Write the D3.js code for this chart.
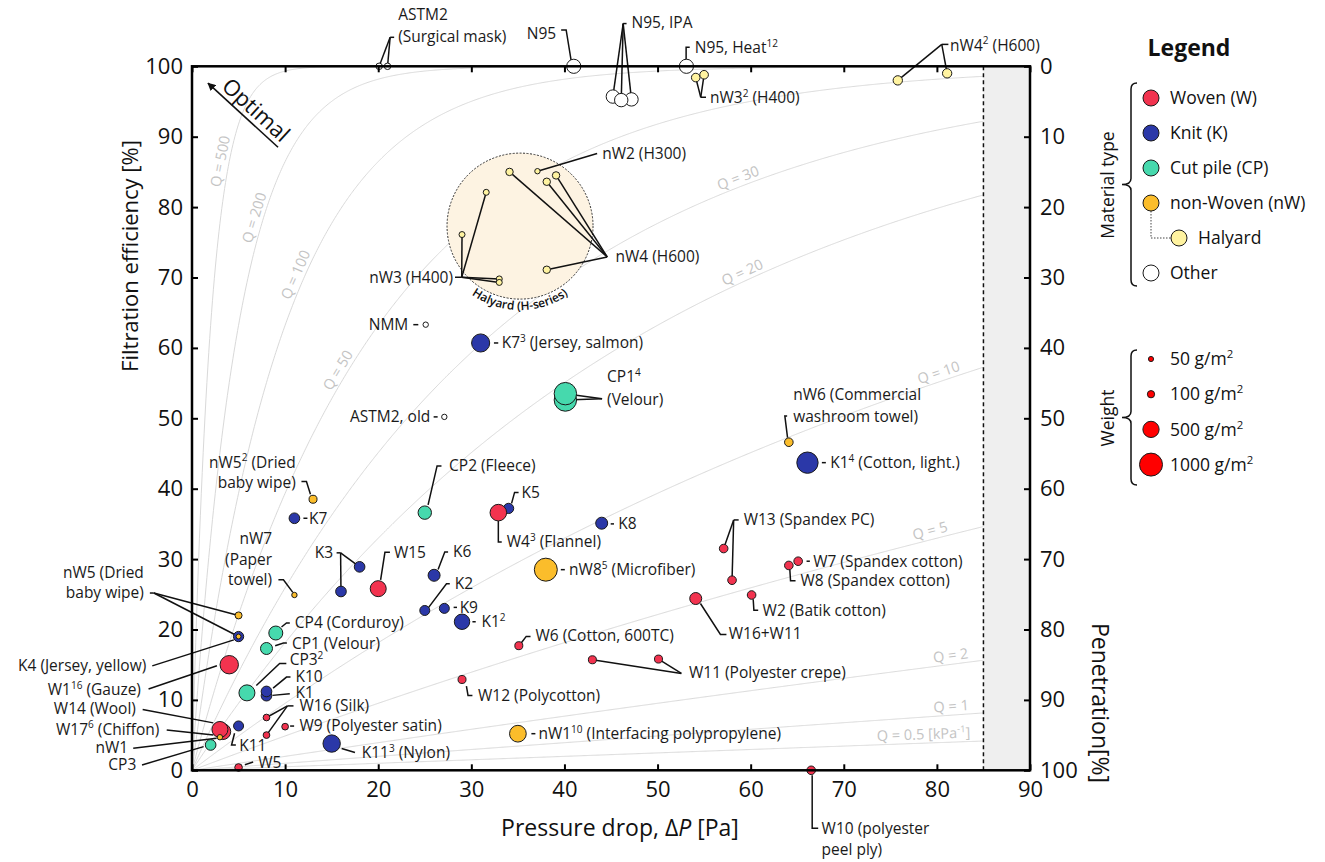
<!DOCTYPE html>
<html>
<head>
<meta charset="utf-8">
<script src="https://cdn.jsdelivr.net/npm/d3@7"></script>
<style>
  body { margin: 0; background: #fff; }
  svg text { font-family: "Open Sans", "Noto Sans", sans-serif; }
</style>
</head>
<body>
<svg id="chart" width="1325" height="862"></svg>
<script>
// ---- data: [id, pressure drop (Pa), filtration efficiency (%), weight (g/m2)]
const other = [
  ["ASTM2a", 20.1, 100, 80], ["ASTM2b", 21.0, 100, 80],
  ["N95", 41.0, 100, 380],
  ["N95IPAa", 45.2, 95.7, 340], ["N95IPAc", 47.2, 95.3, 340], ["N95IPAb", 46.1, 95.2, 340],
  ["N95H", 53.1, 100, 380],
  ["NMM", 25.1, 63.3, 55], ["ASTM2old", 27.1, 50.2, 55]
];
const halyard = [
  ["nW3c", 54.1, 98.4, 140], ["nW3d", 55.0, 98.8, 140],
  ["nW4c", 75.8, 98.0, 165], ["nW4d", 81.1, 99.0, 165],
  ["nW4a", 34.1, 85.0, 105], ["nW2", 37.1, 85.1, 55], ["nW4b", 38.1, 83.6, 105],
  ["nW4e", 39.1, 84.5, 105], ["nW3a", 31.6, 82.1, 68], ["nW3b", 29.0, 76.1, 68],
  ["nW3e", 33.0, 69.8, 68], ["nW3f", 33.0, 69.3, 68], ["nW4f", 38.1, 71.1, 105]
];
const knit = [
  ["K7s", 31.0, 60.7, 620], ["K1c", 66.1, 43.7, 860], ["K5", 34.0, 37.2, 200],
  ["K8", 44.0, 35.1, 272], ["K7", 11.0, 35.8, 215], ["K3a", 18.0, 28.9, 215],
  ["K3b", 16.0, 25.4, 215], ["K6", 26.0, 27.7, 272], ["K2", 25.0, 22.7, 189],
  ["K9", 27.1, 23.0, 189], ["K1b", 29.0, 21.1, 450], ["K1", 8.0, 10.6, 215],
  ["K10", 8.0, 11.2, 215], ["K11", 5.0, 6.3, 189], ["K11n", 15.0, 3.8, 570],
  ["K4", 5.0, 19.0, 200]
];
const cutPile = [
  ["CP1va", 40.1, 52.6, 950], ["CP1vb", 40.1, 53.5, 950], ["CP2", 25.0, 36.6, 340],
  ["CP4", 9.0, 19.5, 370], ["CP1", 8.0, 17.3, 272], ["CP3s", 5.9, 11.0, 484],
  ["CP3", 2.0, 3.6, 215]
];
const woven = [
  ["W17", 3.3, 5.5, 484], ["W14", 3.0, 5.8, 484], ["W4", 32.9, 36.6, 520],
  ["W15", 20.0, 25.8, 484], ["W1", 4.0, 15.0, 640], ["W16a", 8.0, 7.5, 85],
  ["W16b", 8.0, 5.0, 85], ["W9", 10.0, 6.2, 85], ["W5", 5.0, 0.4, 110],
  ["W12", 29.0, 12.9, 121], ["W6", 35.1, 17.7, 121], ["W11a", 43.0, 15.7, 121],
  ["W11b", 50.1, 15.8, 121], ["W16W11", 54.1, 24.4, 272], ["W2", 60.1, 24.9, 140],
  ["W13a", 57.1, 31.5, 140], ["W13b", 58.0, 27.0, 140], ["W7", 65.1, 29.7, 140],
  ["W8", 64.1, 29.1, 140], ["W10", 66.5, 0, 140]
];
const nonWoven = [
  ["nW5s", 13.0, 38.5, 121], ["nW7", 11.0, 24.9, 55], ["nW8", 38.0, 28.5, 1000],
  ["nW1i", 35.0, 5.2, 530], ["nW6", 64.1, 46.6, 140], ["nW5a", 5.0, 22.0, 93],
  ["nW5b", 5.0, 19.0, 45], ["nW1", 3.0, 4.7, 55]
];

const xTicks = d3.range(0, 91, 10);
const yTicks = d3.range(0, 101, 10);
const qValues = [500, 200, 100, 50, 30, 20, 10, 5, 2, 1, 0.5];          // kPa^-1
const qLabelDp = [3.97, 7.6, 12.0, 16.5, 59, 59.5, 80.5, 79.5, 81.6, 81.6, 78.6];
const qLabels = ["Q = 500", "Q = 200", "Q = 100", "Q = 50", "Q = 30", "Q = 20",
  "Q = 10", "Q = 5", "Q = 2", "Q = 1", "Q = 0.5 [kPa^-1^]"];
const cutoffDp = 85;
const halyardZone = [35.23, 77.3];
const weightTicks = [50, 100, 500, 1000];
const materialLegend = [["Woven (W)", "woven"], ["Knit (K)", "knit"], ["Cut pile (CP)", "cutPile"],
  ["non-Woven (nW)", "nonWoven"], ["Halyard", "halyard"], ["Other", "other"]];

const colors = { woven: "#f2334f", knit: "#2b38a8", cutPile: "#46d9ad",
  nonWoven: "#fbbd2b", halyard: "#fff3a0", other: "#ffffff" };

// annotation layout: offsets in px relative to point p
const notes = [
  { t: "ASTM2\n(Surgical mask)", p: "ASTM2a", dx: 19, dy: -51.5, lh: 21.7, seg: [[15, -29], [11, -29]], hub: [11, -29], to: ["ASTM2a", "ASTM2b"] },
  { t: "N95", p: "N95", a: "end", dx: -17.6, dy: -32.4, seg: [[-12.6, -36.4], [-7.6, -36.4], [-2.6, -5.7]] },
  { t: "N95, IPA", p: "N95IPAa", dx: 18.7, dy: -74.3, seg: [[13.7, -73], [10.3, -73]], hub: [10.3, -73], to: ["N95IPAa", "N95IPAb", "N95IPAc"] },
  { t: "N95, Heat^12^", p: "N95H", dx: 8.3, dy: -19, seg: [[3.3, -19], [-0.3, -19], [-0.3, -5.7]] },
  { t: "nW3^2^ (H400)", p: "nW3c", dx: 14.3, dy: 20.3, seg: [[10.3, 19.7], [5, 19.7]], hub: [5, 19.7], to: ["nW3c", "nW3d"] },
  { t: "nW4^2^ (H600)", p: "nW4c", dx: 52.3, dy: -35.3, seg: [[50.6, -36], [44, -36]], hub: [44, -36], to: ["nW4c", "nW4d"] },
  { t: "nW2 (H300)", p: "nW2", dx: 64.7, dy: -17.7, hub: [59.7, -17.7], to: ["nW2"] },
  { t: "nW4 (H600)", p: "nW4a", dx: 106, dy: 85, hub: [97.7, 85], to: ["nW4a", "nW4b", "nW4e", "nW4f"] },
  { t: "nW3 (H400)", p: "nW3b", a: "end", dx: -9, dy: 42.7, seg: [[-7, 42.7], [-0.3, 42.7]], hub: [-0.3, 42.7], to: ["nW3a", "nW3b", "nW3e", "nW3f"] },
  { t: "NMM", p: "NMM", a: "end", dx: -17.4, dy: 0, seg: [[-12.4, 0], [-7.4, 0]] },
  { t: "ASTM2, old", p: "ASTM2old", a: "end", dx: -14, dy: 0, seg: [[-10.7, 0], [-6.7, 0]] },
  { t: "K7^3^ (Jersey, salmon)", p: "K7s", dx: 21, dy: 0, seg: [[13.3, 0], [17.6, 0]] },
  { t: "CP1^4^\n(Velour)", p: "CP1vb", dx: 41.7, dy: -16.6, lh: 22.3, hub: [36.7, 5], to: ["CP1va", "CP1vb"] },
  { t: "nW6 (Commercial\nwashroom towel)", p: "nW6", dx: 4.3, dy: -48, lh: 22.3, seg: [[-1.7, -26.3], [-4, -26.3], [-1.3, -4.7]] },
  { t: "K1^4^ (Cotton, light.)", p: "K1c", dx: 22.7, dy: 0, seg: [[14.4, 0], [18.4, 0]] },
  { t: "nW5^2^ (Dried\nbaby wipe)", p: "nW5s", a: "end", dx: -17.3, dy: -37, lh: 20.3, seg: [[-11.6, -17.7], [-6.6, -17.7], [-2.6, -5]] },
  { t: "K7", p: "K7", dx: 14.7, dy: 0, seg: [[9, 0], [13, 0]] },
  { t: "nW7\n(Paper\ntowel)", p: "nW7", a: "end", dx: -22.3, dy: -56.3, lh: 20.5, seg: [[-16, -15.3], [-11, -15.3], [-1.6, -2.6]] },
  { t: "K3", p: "K3a", a: "end", dx: -26.4, dy: -14, seg: [[-23, -14], [-19, -14]], hub: [-19, -14], to: ["K3a", "K3b"] },
  { t: "W15", p: "W15", dx: 15.7, dy: -36.4, seg: [[11.7, -36.4], [6.7, -36.4], [2.4, -8.7]] },
  { t: "K6", p: "K6", dx: 19, dy: -23.4, seg: [[14, -23.4], [10.7, -23.4], [4, -5.7]] },
  { t: "K2", p: "K2", dx: 30, dy: -26.7, seg: [[25, -26.7], [21.7, -26.7], [3.3, -2.4]] },
  { t: "K9", p: "K9", dx: 15.3, dy: -1, seg: [[9.3, -1], [12.7, -1]] },
  { t: "K1^2^", p: "K1b", dx: 19.4, dy: 0, seg: [[10.4, 0], [13.7, 0]] },
  { t: "CP2 (Fleece)", p: "CP2", dx: 24.3, dy: -46.7, seg: [[16.7, -46.7], [12.3, -46.7], [3.3, -7.7]] },
  { t: "K5", p: "K5", dx: 13, dy: -16, seg: [[10, -16], [6, -16], [3, -5]] },
  { t: "W4^3^ (Flannel)", p: "W4", dx: 8.4, dy: 29.4, seg: [[3.4, 29.4], [0, 29.4], [0, 8.4]] },
  { t: "K8", p: "K8", dx: 16.6, dy: 0.7, seg: [[9, 0.7], [12.3, 0.7]] },
  { t: "nW8^5^ (Microfiber)", p: "nW8", dx: 23.3, dy: 0, seg: [[15, 0], [19, 0]] },
  { t: "W13 (Spandex PC)", p: "W13a", dx: 20, dy: -28.6, seg: [[15, -28.6], [10, -28.6]], hub: [10, -28.6], to: ["W13a", "W13b"] },
  { t: "W7 (Spandex cotton)", p: "W7", dx: 15, dy: 0, seg: [[8.4, 0], [11.7, 0]] },
  { t: "W8 (Spandex cotton)", p: "W8", dx: 11.7, dy: 15.3, seg: [[6.7, 15.3], [1.7, 15.3], [1, 4.3]] },
  { t: "W2 (Batik cotton)", p: "W2", dx: 11, dy: 15.3, seg: [[6.6, 15.3], [2.3, 15.3], [1.6, 4.3]] },
  { t: "W16+W11", p: "W16W11", dx: 33, dy: 35.3, seg: [[30.7, 36], [24.7, 36], [4.7, 5]] },
  { t: "W6 (Cotton, 600TC)", p: "W6", dx: 16.7, dy: -10, seg: [[11.7, -9.3], [7.4, -9.3], [2.4, -2.7]] },
  { t: "W11 (Polyester crepe)", p: "W11a", dx: 96.6, dy: 13, hub: [89, 13.7], to: ["W11a", "W11b"] },
  { t: "W12 (Polycotton)", p: "W12", dx: 16, dy: 16, seg: [[10.4, 16], [6, 16], [4.4, 6.7]] },
  { t: "CP4 (Corduroy)", p: "CP4", dx: 19, dy: -10, seg: [[14, -10], [10.7, -10], [5.7, -6]] },
  { t: "CP1 (Velour)", p: "CP1", dx: 25.4, dy: -5.4, seg: [[20.4, -5.4], [17, -5.4], [8.7, -2.7]] },
  { t: "CP3^2^", p: "CP3s", dx: 42.7, dy: -33.3, seg: [[39.4, -29.3], [32.7, -29.3], [9.4, -7.3]] },
  { t: "K10", p: "K10", dx: 29, dy: -14.4, seg: [[24, -14.4], [20, -14.4], [6.6, -3.4]] },
  { t: "K1", p: "K1", dx: 29, dy: -2.7, seg: [[23.3, -2], [6, -0.3]] },
  { t: "W16 (Silk)", p: "W16a", dx: 33, dy: -11.6, seg: [[27, -11.6], [21, -11.6]], hub: [21, -11.6], to: ["W16a", "W16b"] },
  { t: "W9 (Polyester satin)", p: "W9", dx: 14.3, dy: -0.6, seg: [[5, -0.6], [9, -0.6]] },
  { t: "K11^3^ (Nylon)", p: "K11n", dx: 30, dy: 9, seg: [[23.3, 9], [10, 5]] },
  { t: "W5", p: "W5", dx: 19.6, dy: -5.4, seg: [[14.6, -5.4], [6.3, -2.7]] },
  { t: "K11", p: "K11", dx: 0.6, dy: 20, seg: [[-2.7, 19], [-7, 19], [-4, 7.3]] },
  { t: "nW1^10^ (Interfacing polypropylene)", p: "nW1i", dx: 20.5, dy: 0, seg: [[13.5, 0], [17.5, 0]] },
  { t: "nW5 (Dried\nbaby wipe)", p: "nW5a", a: "end", dx: -94.7, dy: -42.4, lh: 20, seg: [[-88.7, -22.4], [-84.7, -22.4]], hub: [-84.7, -22.4], to: ["nW5a", "nW5b"] },
  { t: "K4 (Jersey, yellow)", p: "K4", a: "end", dx: -92.3, dy: 29.3, seg: [[-86.3, 29.3], [-4.7, 3.3]] },
  { t: "W1^16^ (Gauze)", p: "W1", a: "end", dx: -88.3, dy: 25, seg: [[-80.7, 24.3], [-12.3, 1]] },
  { t: "W14 (Wool)", p: "W14", a: "end", dx: -84, dy: -21, seg: [[-77.3, -20], [-6.7, -6.6]] },
  { t: "W17^6^ (Chiffon)", p: "W17", a: "end", dx: -63.3, dy: -2.4, seg: [[-56, -1.7], [-9.3, 3.3]] },
  { t: "nW1", p: "nW1", a: "end", dx: -91.7, dy: 10.4, seg: [[-86.7, 11], [-3.3, 1]] },
  { t: "CP3", p: "CP3", a: "end", dx: -74.3, dy: 19.3, seg: [[-68.6, 20], [-7, 1.7]] },
  { t: "W10 (polyester\npeel ply)", p: "W10", dx: 10.4, dy: 58, lh: 21, seg: [[7, 58], [1, 58], [1, 5]] }
];

// ---- setup
const svg = d3.select("#chart");
const x = d3.scaleLinear().domain([0, 90]).range([192, 1030]);
const y = d3.scaleLinear().domain([0, 100]).range([770.3, 66.3]);
const pen = d3.scaleLinear().domain([0, 100]).range([66.3, 770.3]);
const r = d3.scaleSqrt().domain([0, 1000]).range([0, 11.5]);
const FS = 15.5;

const pts = {};
const ordered = [];
[["other", other], ["halyard", halyard], ["knit", knit], ["cutPile", cutPile],
 ["woven", woven], ["nonWoven", nonWoven]].forEach(([k, arr]) => {
  arr.forEach(([id, dp, fe, w]) => { pts[id] = { id, dp, fe, w, k }; ordered.push(pts[id]); });
});

// text with ^superscript^ parts
function rich(g, str, px, py, anchor, fs) {
  const t = g.append("text").attr("x", px).attr("y", py).attr("dy", "0.35em")
    .attr("text-anchor", anchor || "start").attr("font-size", fs);
  str.split("^").forEach((s, i) => {
    if (!s) return;
    const sp = t.append("tspan").text(s);
    if (i % 2 === 1) sp.attr("font-size", fs * 0.65).attr("dy", -fs * 0.4);
    else if (i > 0) sp.attr("dy", fs * 0.4);
  });
  return t;
}

const defs = svg.append("defs");
defs.append("clipPath").attr("id", "plotClip").append("rect")
  .attr("x", x(0)).attr("y", y(100)).attr("width", x(cutoffDp) - x(0)).attr("height", y(0) - y(100));
defs.append("marker").attr("id", "arrow").attr("viewBox", "0 0 10 10")
  .attr("refX", 9).attr("refY", 5).attr("markerWidth", 5).attr("markerHeight", 5)
  .attr("orient", "auto").append("path").attr("d", "M0,0 L10,5 L0,10 z").attr("fill", "#111");

// shaded out-of-range zone
svg.append("rect").attr("x", x(cutoffDp)).attr("y", y(100))
  .attr("width", x(90) - x(cutoffDp)).attr("height", y(0) - y(100)).attr("fill", "#efefef");

// iso-Q curves
const effAt = (q, dp) => 100 * (1 - Math.exp(-q * dp / 1000));
const dpSamples = d3.range(0, cutoffDp + 0.001, 0.1);
const qLine = d3.line().x(d => x(d[0])).y(d => y(d[1]));
const gQ = svg.append("g").attr("clip-path", "url(#plotClip)");
qValues.forEach(q => {
  gQ.append("path").attr("d", qLine(dpSamples.map(d => [d, effAt(q, d)])))
    .attr("fill", "none").attr("stroke", "#d9d9d9").attr("stroke-width", 1);
});
const gQl = svg.append("g").attr("fill", "#c4c4c4");
qValues.forEach((q, i) => {
  const d0 = qLabelDp[i];
  const ax = x(d0 + 0.05) - x(d0 - 0.05), ay = y(effAt(q, d0 + 0.05)) - y(effAt(q, d0 - 0.05));
  const ang = Math.atan2(ay, ax);
  const px = x(d0) + 9 * Math.sin(ang), py = y(effAt(q, d0)) - 9 * Math.cos(ang);
  rich(gQl, qLabels[i], 0, 0, "middle", 14.5)
    .attr("transform", `translate(${px},${py}) rotate(${ang * 180 / Math.PI})`);
});

// cutoff dashed line
svg.append("line").attr("x1", x(cutoffDp)).attr("x2", x(cutoffDp)).attr("y1", y(100)).attr("y2", y(0))
  .attr("stroke", "#111").attr("stroke-width", 1.5).attr("stroke-dasharray", "4,3");

// Halyard zone
const hx = x(halyardZone[0]), hy = y(halyardZone[1]), hr = 73, tr = 84;
svg.append("circle").attr("cx", hx).attr("cy", hy).attr("r", hr)
  .attr("fill", "#fdf3e2").attr("stroke", "#333").attr("stroke-width", 1).attr("stroke-dasharray", "2,1.5");
const a1 = 168 * Math.PI / 180, a2 = 12 * Math.PI / 180;
defs.append("path").attr("id", "hArc")
  .attr("d", `M${hx + tr * Math.cos(a1)},${hy + tr * Math.sin(a1)} A${tr},${tr} 0 0 0 ${hx + tr * Math.cos(a2)},${hy + tr * Math.sin(a2)}`);
svg.append("text").attr("font-size", 12).attr("font-weight", 600).attr("fill", "#111")
  .append("textPath").attr("href", "#hArc").attr("startOffset", "50%").attr("text-anchor", "middle")
  .text("Halyard (H-series)");

// leaders
const gLead = svg.append("g").attr("fill", "none").attr("stroke", "#111").attr("stroke-width", 1.5);
notes.forEach(n => {
  const P = pts[n.p], px = x(P.dp), py = y(P.fe);
  if (n.seg) gLead.append("polyline").attr("points", n.seg.map(o => [px + o[0], py + o[1]].join(",")).join(" "));
  if (n.hub) (n.to || []).forEach(id => {
    gLead.append("line").attr("x1", px + n.hub[0]).attr("y1", py + n.hub[1])
      .attr("x2", x(pts[id].dp)).attr("y2", y(pts[id].fe));
  });
});

// points
svg.append("g").selectAll("circle").data(ordered).join("circle")
  .attr("cx", d => x(d.dp)).attr("cy", d => y(d.fe)).attr("r", d => r(d.w))
  .attr("fill", d => colors[d.k]).attr("stroke", "#1a1a1a").attr("stroke-width", 1);

// labels
const gLab = svg.append("g").attr("fill", "#1a1a1a");
notes.forEach(n => {
  const P = pts[n.p], px = x(P.dp), py = y(P.fe);
  n.t.split("\n").forEach((line, i) => rich(gLab, line, px + n.dx, py + n.dy + i * (n.lh || 21), n.a, FS));
});

// Optimal arrow
const optTail = [9.24, 88.5], optHead = [1.72, 97.6], optText = [6.87, 93.8];
svg.append("line").attr("x1", x(optTail[0])).attr("y1", y(optTail[1]))
  .attr("x2", x(optHead[0])).attr("y2", y(optHead[1]))
  .attr("stroke", "#111").attr("stroke-width", 1.6).attr("marker-end", "url(#arrow)");
const optAng = Math.atan2(y(optTail[1]) - y(optHead[1]), x(optTail[0]) - x(optHead[0])) * 180 / Math.PI;
svg.append("text").attr("transform", `translate(${x(optText[0])},${y(optText[1])}) rotate(${optAng})`)
  .attr("text-anchor", "middle").attr("dy", "0.35em").attr("font-size", 22).attr("fill", "#111").text("Optimal");

// frame + axes
svg.append("rect").attr("x", x(0)).attr("y", y(100)).attr("width", x(90) - x(0)).attr("height", y(0) - y(100))
  .attr("fill", "none").attr("stroke", "#000").attr("stroke-width", 2.5);
function styleAxis(g) {
  g.select(".domain").remove();
  g.attr("font-size", 22).attr("font-family", null);
  g.selectAll(".tick line").attr("stroke", "#000").attr("stroke-width", 2);
  g.selectAll(".tick text").attr("fill", "#111");
}
svg.append("g").attr("transform", `translate(0,${y(0)})`)
  .call(d3.axisBottom(x).tickValues(xTicks).tickSize(-6).tickPadding(11)).call(styleAxis);
svg.append("g").attr("transform", `translate(0,${y(100)})`)
  .call(d3.axisTop(x).tickValues(xTicks).tickSize(-6).tickFormat("")).call(styleAxis);
svg.append("g").attr("transform", `translate(${x(0)},0)`)
  .call(d3.axisLeft(y).tickValues(yTicks).tickSize(-6).tickPadding(9)).call(styleAxis);
svg.append("g").attr("transform", `translate(${x(90)},0)`)
  .call(d3.axisRight(pen).tickValues(yTicks).tickSize(-6).tickPadding(10)).call(styleAxis);

// axis titles
const xt = svg.append("text").attr("x", 620).attr("y", 828).attr("dy", "0.35em")
  .attr("text-anchor", "middle").attr("font-size", 23).attr("fill", "#111");
xt.append("tspan").text("Pressure drop, Δ");
xt.append("tspan").attr("font-style", "italic").text("P");
xt.append("tspan").text(" [Pa]");
svg.append("text").attr("transform", "translate(130,256) rotate(-90)").attr("dy", "0.35em")
  .attr("text-anchor", "middle").attr("font-size", 22).attr("fill", "#111").text("Filtration efficiency [%]");
svg.append("text").attr("transform", "translate(1100,703) rotate(90)").attr("dy", "0.35em")
  .attr("text-anchor", "middle").attr("font-size", 23).attr("fill", "#111").text("Penetration[%]");

// legend
const gL = svg.append("g").attr("fill", "#111");
gL.append("text").attr("x", 1189).attr("y", 48).attr("dy", "0.35em").attr("text-anchor", "middle")
  .attr("font-size", 23).attr("font-weight", "bold").text("Legend");
function brace(xr, y0, y1, tip) {
  const ym = (y0 + y1) / 2, c = 6;
  return `M${xr + 6},${y0} Q${xr},${y0} ${xr},${y0 + c} L${xr},${ym - c} Q${xr},${ym} ${tip},${ym} ` +
    `Q${xr},${ym} ${xr},${ym + c} L${xr},${y1 - c} Q${xr},${y1} ${xr + 6},${y1}`;
}
gL.append("path").attr("d", brace(1131, 83, 286, 1122)).attr("fill", "none").attr("stroke", "#111").attr("stroke-width", 1.5);
gL.append("path").attr("d", brace(1131, 350, 485, 1122)).attr("fill", "none").attr("stroke", "#111").attr("stroke-width", 1.5);
gL.append("text").attr("transform", "translate(1108,185) rotate(-90)").attr("dy", "0.35em")
  .attr("text-anchor", "middle").attr("font-size", 17.5).text("Material type");
gL.append("text").attr("transform", "translate(1108,418) rotate(-90)").attr("dy", "0.35em")
  .attr("text-anchor", "middle").attr("font-size", 17.5).text("Weight");

const legY = i => 98 + i * 35;
gL.append("path").attr("d", `M1151,${legY(3) + 8} V${legY(4)} H1171`)
  .attr("fill", "none").attr("stroke", "#444").attr("stroke-width", 1).attr("stroke-dasharray", "1.5,1.5");
materialLegend.forEach(([label, k], i) => {
  const cx = k === "halyard" ? 1179 : 1151;
  gL.append("circle").attr("cx", cx).attr("cy", legY(i)).attr("r", 8)
    .attr("fill", colors[k]).attr("stroke", "#1a1a1a").attr("stroke-width", 1);
  gL.append("text").attr("x", cx + 19).attr("y", legY(i)).attr("dy", "0.35em").attr("font-size", 17.5).text(label);
});
weightTicks.forEach((w, i) => {
  const cy = 359 + i * 35.2;
  gL.append("circle").attr("cx", 1151).attr("cy", cy).attr("r", r(w))
    .attr("fill", "#ff0000").attr("stroke", "#1a1a1a").attr("stroke-width", 1);
  rich(gL, `${w} g/m^2^`, 1170, cy, "start", 17.5);
});
</script>
</body>
</html>
